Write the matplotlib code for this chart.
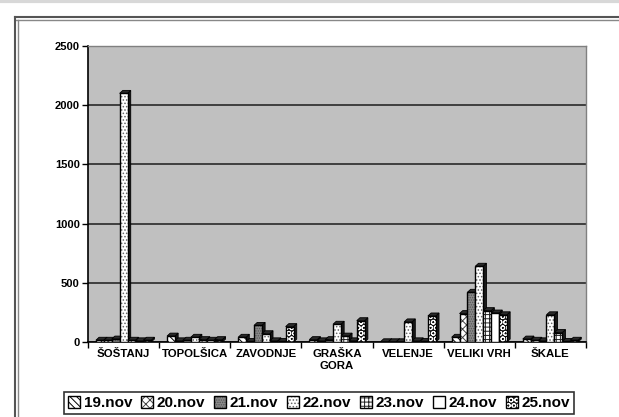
import matplotlib
matplotlib.use("Agg")
import matplotlib.pyplot as plt
from matplotlib.patches import Patch, Polygon
from matplotlib.lines import Line2D
from matplotlib.legend_handler import HandlerTuple
import numpy as np

plt.rcParams['font.family'] = ['Liberation Sans', 'DejaVu Sans']
plt.rcParams['hatch.linewidth'] = 0.7

categories = ["ŠOŠTANJ", "TOPOLŠICA", "ZAVODNJE", "GRAŠKA\nGORA", "VELENJE", "VELIKI VRH", "ŠKALE"]
series_names = ["19.nov", "20.nov", "21.nov", "22.nov", "23.nov", "24.nov", "25.nov"]
v19 = [15, 50, 40, 20, 2, 40, 25]
v20 = [15, 10, 5, 10, 2, 240, 15]
v21 = [25, 15, 140, 20, 2, 420, 10]
v22 = [2100, 40, 70, 150, 170, 640, 230]
v23 = [15, 20, 10, 50, 10, 265, 80]
v24 = [10, 15, 5, 10, 5, 245, 5]
v25 = [15, 20, 130, 180, 220, 230, 15]
yticks = [0, 500, 1000, 1500, 2000, 2500]

series = [v19, v20, v21, v22, v23, v24, v25]
faces = ['white', 'white', '#8a8a8a', 'white', 'white', 'white', '#111111']
hatchcols = ['black', '#444444', '#555555', '#666666', '#222222', 'white', 'white']
hatches = ['\\' * 5, 'x' * 4, '.' * 7, '.' * 5, '+' * 4, '', 'O' * 3]

W, H = 619, 417
fig = plt.figure(figsize=(W / 100, H / 100), dpi=100)
fig.patch.set_facecolor('white')

ax = fig.add_axes([88 / W, 1 - 342 / H, 498 / W, 296 / H])
ax.set_facecolor('#c0c0c0')
ax.set_xlim(0, len(categories))
ax.set_ylim(0, 2500)

bw = 1 / 9
dx = 0.045
dy = 25
for g in range(len(categories)):
    for s in range(len(series)):
        val = series[s][g]
        x0 = g + bw + s * bw
        x1 = x0 + bw
        z = 3 + s * 0.01 + g
        side = Polygon([[x1, 0], [x1 + dx, dy], [x1 + dx, val + dy], [x1, val]],
                       closed=True, facecolor='#1a1a1a', edgecolor='black', lw=0.6, zorder=z)
        top = Polygon([[x0, val], [x0 + dx, val + dy], [x1 + dx, val + dy], [x1, val]],
                      closed=True, facecolor='#2a2a2a', edgecolor='black', lw=0.6, zorder=z)
        ax.add_patch(side)
        ax.add_patch(top)
        ax.bar(x0, val, width=bw, align='edge', facecolor=faces[s], hatch=hatches[s],
               edgecolor=hatchcols[s], linewidth=0, zorder=z + 0.003)
        ax.bar(x0, val, width=bw, align='edge', fill=False,
               edgecolor='black', linewidth=1.0, zorder=z + 0.006)

ax.set_yticks(yticks)
ax.set_yticklabels([str(t) for t in yticks], fontsize=8, fontweight='bold')
ax.yaxis.grid(True, color='#353535', linewidth=1.3)
ax.set_axisbelow(True)
ax.set_xticks(np.arange(0, len(categories) + 1))
ax.set_xticklabels([])
ax.set_xticks(np.arange(len(categories)) + 0.5, minor=True)
ax.set_xticklabels(categories, minor=True, fontsize=8.2, fontweight='bold')
ax.tick_params(axis='x', which='minor', length=0, pad=5)
ax.tick_params(axis='x', which='major', length=4, direction='out', width=1)
ax.tick_params(axis='y', length=4, direction='out', width=1, pad=2)

for sp in ['top', 'right']:
    ax.spines[sp].set_color('#808080')
    ax.spines[sp].set_linewidth(1)
ax.spines['left'].set_color('black')
ax.spines['left'].set_linewidth(1.2)
ax.spines['bottom'].set_color('black')
ax.spines['bottom'].set_linewidth(1.2)

handles = [(Patch(facecolor=faces[i], hatch=hatches[i], edgecolor=hatchcols[i], linewidth=0),
            Patch(fill=False, edgecolor='black', linewidth=1.0))
           for i in range(len(series_names))]
leg = fig.legend(handles, series_names, loc='center', bbox_to_anchor=(319 / W, 1 - 403 / H),
                 handler_map={tuple: HandlerTuple(ndivide=1, pad=0)},
                 ncol=7, frameon=True, fancybox=False, edgecolor='black',
                 prop={'weight': 'bold', 'size': 11}, handlelength=0.8, handleheight=0.8,
                 handletextpad=0.25, columnspacing=0.55, borderpad=0.25, borderaxespad=0)
leg.get_frame().set_linewidth(1.2)

# outer frame (top and left double line) and top band
fig.add_artist(Line2D([15 / W, 1], [1 - 17 / H, 1 - 17 / H], color='#555555', lw=1.5))
fig.add_artist(Line2D([15 / W, 1], [1 - 20 / H, 1 - 20 / H], color='#888888', lw=1.0))
fig.add_artist(Line2D([15 / W, 15 / W], [0, 1 - 17 / H], color='#555555', lw=1.5))
fig.add_artist(Line2D([18 / W, 18 / W], [0, 1 - 20 / H], color='#888888', lw=1.0))
fig.add_artist(Line2D([0, 1], [1 - 1 / H, 1 - 1 / H], color='#d8d8d8', lw=3))

fig.savefig('out.png', dpi=100)
